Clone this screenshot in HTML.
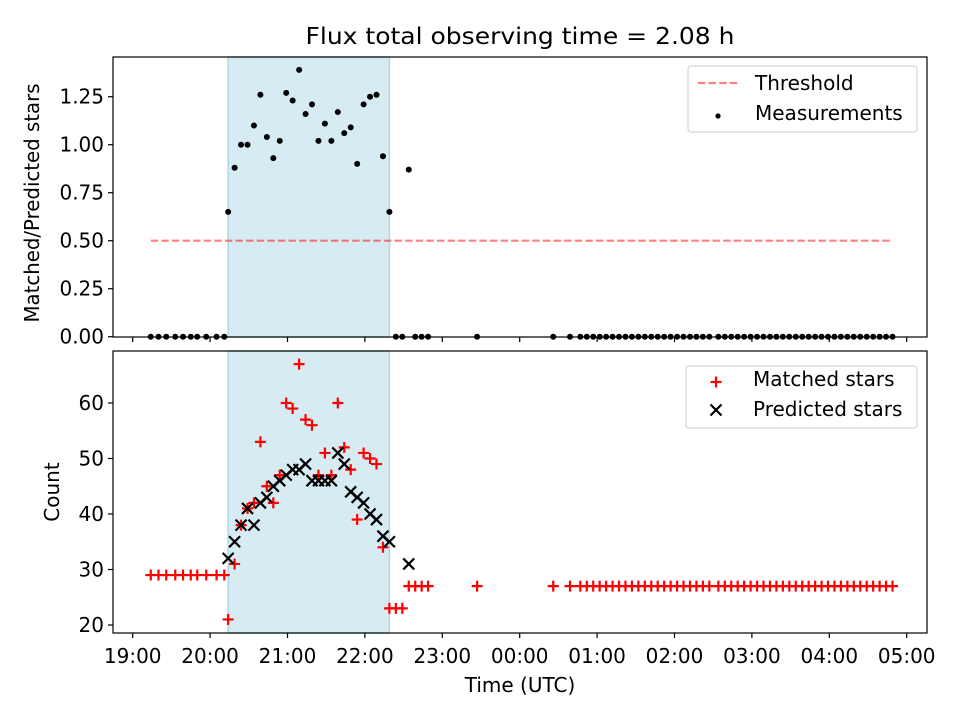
<!DOCTYPE html>
<html><head><meta charset="utf-8">
<style>
html,body{margin:0;padding:0;background:#fff;}
svg{display:block;font-family:"DejaVu Sans","Liberation Sans",sans-serif;}
</style></head>
<body>
<svg id="chart" width="960" height="720" viewBox="0 0 960 720" xmlns="http://www.w3.org/2000/svg">
<rect width="960" height="720" fill="#fff"/>
<text x="520" y="44" font-size="23" text-anchor="middle" textLength="429" lengthAdjust="spacingAndGlyphs">Flux total observing time = 2.08 h</text>
<g id="topg"></g>
<g id="botg"></g>
</svg>
<script>
// minutes after 19:00
const times = [14,20,26,33,39,45,50,57,65,71,
74,79,84,89,94,99,104,109,114,119,124,129,134,139,144,149,154,159,164,169,174,179,184,189,194,199,
204,209,214,219,224,229,267,326,339,
347,352,357,362,367,372,377,382,387,392,397,402,407,412,417,422,427,432,437,442,447,
454,459,464,469,474,479,484,489,494,499,504,509,514,519,524,529,534,539,544,549,554,559,564,569,574,579,584,589];
const ratio = [0,0,0,0,0,0,0,0,0,0,
0.65,0.88,1.0,1.0,1.10,1.26,1.04,0.93,1.02,1.27,1.23,1.39,1.16,1.21,1.02,1.11,1.02,1.17,1.06,1.09,0.90,1.21,1.25,1.26,0.94,0.65,
0,0,0.87,0,0,0,0,0,0,
0,0,0,0,0,0,0,0,0,0,0,0,0,0,0,0,0,0,0,0,0,
0,0,0,0,0,0,0,0,0,0,0,0,0,0,0,0,0,0,0,0,0,0,0,0,0,0,0,0];
const matched = [29,29,29,29,29,29,29,29,29,29,
21,31,38,41,42,53,45,42,47,60,59,67,57,56,47,51,47,60,52,48,39,51,50,49,34,23,
23,23,27,27,27,27,27,27,27,
27,27,27,27,27,27,27,27,27,27,27,27,27,27,27,27,27,27,27,27,27,
27,27,27,27,27,27,27,27,27,27,27,27,27,27,27,27,27,27,27,27,27,27,27,27,27,27,27,27];
const predicted = [null,null,null,null,null,null,null,null,null,null,
32,35,38,41,38,42,43,45,46,47,48,48,49,46,46,46,46,51,49,44,43,42,40,39,36,35,
null,null,31,null,null,null,null,null,null];
const threshold = 0.5;
const bandStart = 74, bandEnd = 199;
const xTickLabels = ["19:00","20:00","21:00","22:00","23:00","00:00","01:00","02:00","03:00","04:00","05:00"];
const topTicks = [0,0.25,0.5,0.75,1.0,1.25];
const botTicks = [20,30,40,50,60];

const NS="http://www.w3.org/2000/svg";
const FS=20;
function mk(parent,tag,attrs,text){const e=document.createElementNS(NS,tag);for(const k in attrs)e.setAttribute(k,attrs[k]);if(text!==undefined)e.textContent=text;parent.appendChild(e);return e;}
const X0=113,X1=927;
const xs = m => 132.7 + (m/60)*77.4;
const PT={y0:57,y1:337}, PB={y0:351,y1:633};
const yTop = v => 336.7 - v*192;
const yBot = v => 625 - (v-20)*5.55;
const gTop=document.getElementById('topg'), gBot=document.getElementById('botg');

function axesFrame(g,P,name){
  const b=mk(g,'rect',{x:xs(bandStart),y:P.y0,width:xs(bandEnd)-xs(bandStart),height:P.y1-P.y0,fill:'#add8e6','fill-opacity':0.5,stroke:'#add8e6','stroke-width':1.5});
  
  
}
axesFrame(gTop,PT,'top');
axesFrame(gBot,PB,'bottom');

const th=mk(gTop,'line',{x1:xs(times[0]),x2:xs(times[times.length-1]),y1:yTop(threshold),y2:yTop(threshold),stroke:'#ff0000','stroke-opacity':0.5,'stroke-width':2.2,'stroke-dasharray':'7.4,3.2'});



times.forEach((t,i)=>{
  const c=mk(gTop,'circle',{cx:xs(t),cy:yTop(ratio[i]),r:3,fill:'#000'});
  
  
});
times.forEach((t,i)=>{
  const x=xs(t),y=yBot(matched[i]);
  const p=mk(gBot,'path',{d:`M${x-5.5},${y}H${x+5.5}M${x},${y-5.5}V${y+5.5}`,stroke:'#ff0000','stroke-width':2.2,fill:'none'});
  
  
});
times.forEach((t,i)=>{
  if(predicted[i]==null)return;
  const x=xs(t),y=yBot(predicted[i]),s=5.5;
  const p=mk(gBot,'path',{d:`M${x-s},${y-s}L${x+s},${y+s}M${x-s},${y+s}L${x+s},${y-s}`,stroke:'#000','stroke-width':2.2,fill:'none'});
  
  
});

[[gTop,PT,'top'],[gBot,PB,'bottom']].forEach(([g,P,n])=>{
  const f=mk(g,'rect',{x:X0,y:P.y0,width:X1-X0,height:P.y1-P.y0,fill:'none',stroke:'#000','stroke-width':1.2});
  
  
  xTickLabels.forEach((lab,i)=>{
    const x=xs(i*60);
    mk(g,'line',{x1:x,x2:x,y1:P.y1,y2:P.y1+5,stroke:'#000','stroke-width':1.2});
    if(n==='bottom'){
      const t=mk(g,'text',{x:x,y:663,'font-size':FS,'text-anchor':'middle'},lab);
      
      
    }
  });
});
topTicks.forEach(v=>{
  const y=yTop(v);
  mk(gTop,'line',{x1:X0-5,x2:X0,y1:y,y2:y,stroke:'#000','stroke-width':1.2});
  const t=mk(gTop,'text',{x:X0-9,y:y+7,'font-size':FS,'text-anchor':'end'},v.toFixed(2));
  
  
});
botTicks.forEach(v=>{
  const y=yBot(v);
  mk(gBot,'line',{x1:X0-5,x2:X0,y1:y,y2:y,stroke:'#000','stroke-width':1.2});
  const t=mk(gBot,'text',{x:X0-9,y:y+7,'font-size':FS,'text-anchor':'end'},String(v));
  
  
});

let l=mk(gTop,'text',{x:0,y:0,'font-size':FS,'text-anchor':'middle',transform:'translate(39,203) rotate(-90)',textLength:239,lengthAdjust:'spacingAndGlyphs'},'Matched/Predicted stars');


l=mk(gBot,'text',{x:0,y:0,'font-size':FS,'text-anchor':'middle',transform:'translate(59,492) rotate(-90)'},'Count');


l=mk(gBot,'text',{x:520,y:692,'font-size':FS,'text-anchor':'middle'},'Time (UTC)');



let lg=mk(gTop,'g',{});


mk(lg,'rect',{x:688,y:66,width:229,height:66,rx:3,fill:'#fff','fill-opacity':0.8,stroke:'#ccc','stroke-width':1});
mk(lg,'line',{x1:698,x2:738,y1:83,y2:83,stroke:'#ff0000','stroke-opacity':0.5,'stroke-width':2.2,'stroke-dasharray':'7.4,3.2'});
mk(lg,'text',{x:755,y:90,'font-size':FS},'Threshold');
mk(lg,'circle',{cx:718,cy:116,r:2.6,fill:'#000'});
mk(lg,'text',{x:755,y:120,'font-size':FS},'Measurements');

lg=mk(gBot,'g',{});


mk(lg,'rect',{x:686,y:366,width:231,height:62,rx:3,fill:'#fff','fill-opacity':0.8,stroke:'#ccc','stroke-width':1});
mk(lg,'path',{d:'M710.5,382H721.5M716,376.5V387.5',stroke:'#ff0000','stroke-width':2.2});
mk(lg,'text',{x:753,y:386,'font-size':FS},'Matched stars');
mk(lg,'path',{d:'M710.5,404.5L721.5,415.5M710.5,415.5L721.5,404.5',stroke:'#000','stroke-width':2.2});
mk(lg,'text',{x:753,y:416,'font-size':FS},'Predicted stars');
</script>
</body></html>
